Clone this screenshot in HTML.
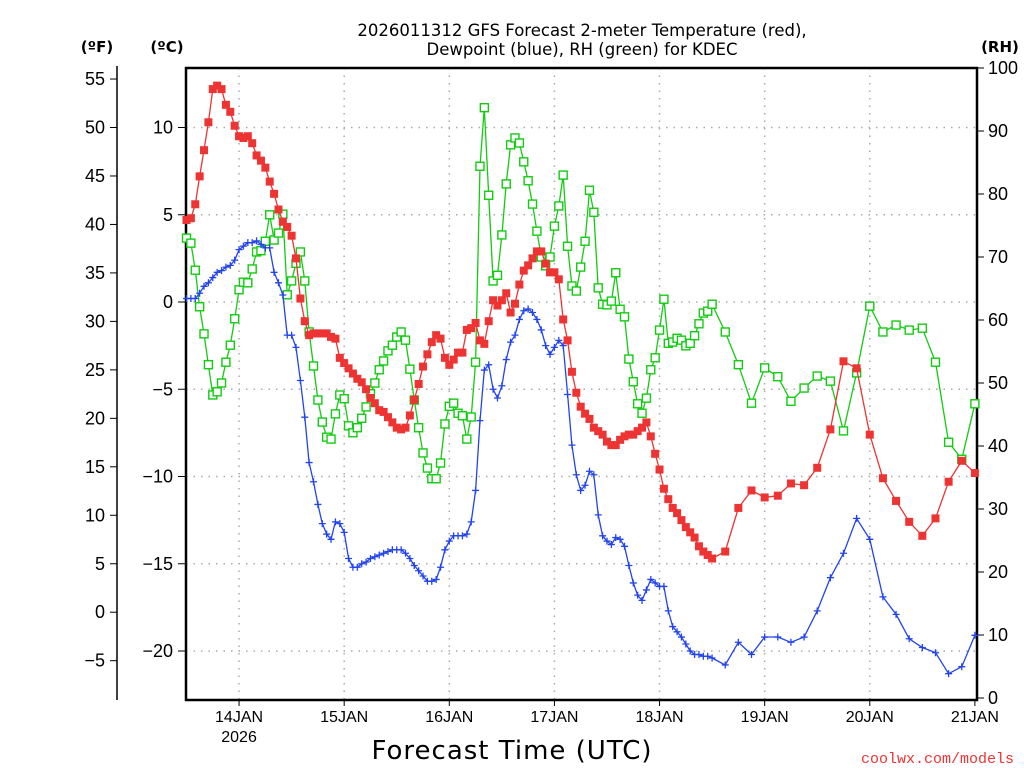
<!DOCTYPE html>
<html><head><meta charset="utf-8"><style>
html,body{margin:0;padding:0;background:#fff;}
svg{display:block;font-family:"DejaVu Sans","Liberation Sans",sans-serif;}
</style></head><body>
<svg id="chart" width="1024" height="768" viewBox="0 0 1024 768" xmlns="http://www.w3.org/2000/svg">
<text x="582" y="36" font-size="16.5" text-anchor="middle" fill="#000">2026011312 GFS Forecast 2-meter Temperature (red),</text>
<text x="582" y="55" font-size="16.5" text-anchor="middle" fill="#000">Dewpoint (blue), RH (green) for KDEC</text>
<text x="97" y="52" font-size="15" font-weight="bold" text-anchor="middle">(ºF)</text>
<text x="167" y="52" font-size="15" font-weight="bold" text-anchor="middle">(ºC)</text>
<text x="1000" y="52" font-size="15" font-weight="bold" text-anchor="middle">(RH)</text>
<text x="512" y="759" font-size="26" text-anchor="middle" fill="#000" letter-spacing="1">Forecast Time (UTC)</text>
<text x="1014" y="763" font-size="15" text-anchor="end" fill="#e33" font-family="Liberation Mono, monospace">coolwx.com/models</text>
<g id="grid"></g><g id="axes"></g><g id="series"></g>
</svg>
<script>
// hourly 0..120 then 3-hourly 123..180 (hours since 13JAN 12Z)
const hours = [];
for (let h = 0; h <= 120; h++) hours.push(h);
for (let h = 123; h <= 180; h += 3) hours.push(h);
const tempC = [4.7,4.8,5.6,7.2,8.7,10.3,12.2,12.4,12.2,11.3,10.9,10.1,9.5,9.4,9.5,9.1,8.4,8.1,7.7,6.9,6.2,5.3,4.6,4.3,3.8,2.5,0.2,-1.1,-1.9,-1.8,-1.8,-1.8,-1.8,-2.0,-2.1,-3.2,-3.5,-3.8,-4.1,-4.4,-4.6,-5.0,-5.5,-5.8,-6.2,-6.3,-6.6,-6.9,-7.2,-7.3,-7.2,-6.5,-5.6,-4.7,-3.7,-3.0,-2.3,-1.9,-2.1,-3.2,-3.6,-3.3,-2.9,-2.9,-1.6,-1.5,-1.2,-2.2,-2.4,-1.1,0.1,-0.2,0.1,0.5,-0.6,-0.1,1.0,1.8,2.1,2.5,2.9,2.9,2.2,1.7,1.7,1.3,-1.0,-2.2,-4.0,-5.2,-6.0,-6.4,-6.7,-7.2,-7.4,-7.6,-8.0,-8.2,-8.2,-7.9,-7.7,-7.6,-7.6,-7.4,-7.2,-6.9,-7.7,-8.7,-9.6,-10.7,-11.3,-11.8,-12.1,-12.5,-12.9,-13.2,-13.5,-14.0,-14.3,-14.5,-14.7,
-14.3,-11.8,-10.8,-11.2,-11.1,-10.4,-10.5,-9.5,-7.3,-3.4,-3.8,-7.6,-10.1,-11.4,-12.6,-13.4,-12.4,-10.3,-9.1,-9.8];
const dewC = [0.2,0.2,0.2,0.5,0.9,1.1,1.4,1.7,1.8,2.0,2.1,2.4,3.0,3.2,3.4,3.4,3.5,3.3,3.1,3.1,1.7,1.1,0.4,-1.9,-1.9,-2.6,-4.5,-6.6,-9.2,-10.3,-11.6,-12.7,-13.3,-13.6,-12.6,-12.7,-13.2,-14.7,-15.2,-15.2,-15.0,-14.9,-14.7,-14.6,-14.5,-14.4,-14.3,-14.2,-14.2,-14.2,-14.4,-14.7,-15.1,-15.4,-15.7,-16.0,-16.0,-15.9,-15.2,-14.2,-13.7,-13.4,-13.4,-13.4,-13.3,-12.6,-10.8,-6.8,-3.9,-3.6,-5.0,-5.5,-4.8,-3.3,-2.3,-1.9,-1.0,-0.5,-0.4,-0.6,-1.0,-1.6,-2.5,-3.0,-2.6,-2.2,-2.5,-5.3,-8.2,-9.9,-10.8,-10.5,-9.7,-9.9,-12.2,-13.4,-13.7,-13.9,-13.5,-13.6,-14.0,-15.1,-16.1,-16.8,-17.1,-16.5,-15.9,-16.1,-16.3,-16.3,-17.7,-18.6,-18.9,-19.2,-19.6,-20.0,-20.2,-20.2,-20.3,-20.3,-20.4,
-20.8,-19.5,-20.2,-19.2,-19.2,-19.5,-19.2,-17.7,-15.8,-14.4,-12.4,-13.6,-16.9,-17.9,-19.3,-19.8,-20.1,-21.3,-20.9,-19.1];
const rh = [73.0,72.2,67.9,62.1,57.8,52.9,48.1,48.6,50.0,53.3,56.0,60.2,64.8,66.0,65.9,68.1,70.8,71.0,72.5,76.7,72.7,73.8,76.8,64.0,66.2,69.0,70.8,66.2,58.1,52.7,47.3,43.8,41.4,41.1,45.1,48.1,47.5,43.2,42.1,42.9,44.4,46.2,48.3,50.0,52.1,53.5,55.1,56.0,57.3,58.1,56.8,52.2,47.3,42.9,38.9,36.5,34.8,34.8,37.3,43.5,46.3,46.8,45.2,44.8,41.1,44.6,53.3,84.4,93.7,79.8,66.2,67.1,73.5,81.6,87.8,88.9,88.1,85.1,82.1,78.4,74.1,70.0,68.6,70.0,74.9,78.1,83.0,71.7,65.4,64.6,68.4,72.5,80.6,77.1,65.1,62.5,62.4,63.0,67.5,61.7,60.5,53.8,50.2,46.7,45.2,47.6,52.1,54.0,58.4,63.3,56.3,56.5,57.1,56.8,55.9,56.3,57.5,59.4,61.1,61.4,62.5,
58.1,52.9,46.8,52.4,51.0,47.1,49.2,51.1,50.3,42.4,51.6,62.2,58.1,59.2,58.4,58.7,53.3,40.6,37.9,46.7];
const celsiusTicks = [10,5,0,-5,-10,-15,-20];
const fahrenheitTicks = [55,50,45,40,35,30,25,20,15,10,5,0,-5];
const rhTicks = [100,90,80,70,60,50,40,30,20,10,0];
const dayTicks = [12,36,60,84,108,132,156,180];
const dayLabels = ["14JAN","15JAN","16JAN","17JAN","18JAN","19JAN","20JAN","21JAN"];

const NS = "http://www.w3.org/2000/svg";
const X0 = 186, X1 = 977, Y0 = 68, Y1 = 700;
const xs = h => 186.5 + h * 4.38;
const yC = c => 302 - c * 17.45;
const yF = f => yC((f - 32) * 5 / 9);
const yRH = r => 698 - r * 6.3;
function mk(tag, attrs, parent) {
  const e = document.createElementNS(NS, tag);
  for (const k in attrs) e.setAttribute(k, attrs[k]);
  parent.appendChild(e);
  return e;
}
const grid = document.getElementById('grid');
const axes = document.getElementById('axes');
const series = document.getElementById('series');
const dash = {stroke:'#aaa','stroke-width':1.5,'stroke-dasharray':'1.5,6'};
const LF = '"Liberation Sans", sans-serif';

celsiusTicks.forEach(c => {
  const y = yC(c);
  const g = mk('line', Object.assign({x1:X0,x2:X1,y1:y,y2:y}, dash), grid);
  
  
  const t = mk('line', {x1:178,x2:X0,y1:y,y2:y,stroke:'#000','stroke-width':1}, axes);
  
  
  const l = mk('text', {x:173,y:y+6,'font-size':18,'text-anchor':'end','font-family':LF}, axes);
  l.textContent = c < 0 ? '\u2212' + (-c) : String(c);
  
  
});
fahrenheitTicks.forEach(f => {
  const y = yF(f);
  const t = mk('line', {x1:110,x2:117,y1:y,y2:y,stroke:'#000','stroke-width':1}, axes);
  
  
  const l = mk('text', {x:105,y:y+6,'font-size':18,'text-anchor':'end','font-family':LF}, axes);
  l.textContent = f < 0 ? '\u2212' + (-f) : String(f);
  
  
});
rhTicks.forEach(r => {
  const y = yRH(r);
  const t = mk('line', {x1:X1,x2:984,y1:y,y2:y,stroke:'#000','stroke-width':1}, axes);
  
  
  const l = mk('text', {x:988,y:y+6,'font-size':18,'text-anchor':'start','font-family':LF}, axes);
  l.textContent = String(r);
  
  
});
dayTicks.forEach((h, i) => {
  const x = xs(h);
  if (i < dayTicks.length - 1) {
    const g = mk('line', Object.assign({x1:x,x2:x,y1:Y0,y2:Y1}, dash), grid);
    
    
  }
  const t = mk('line', {x1:x,x2:x,y1:Y1,y2:Y1+6,stroke:'#000','stroke-width':1}, axes);
  
  
  const l = mk('text', {x:x,y:722,'font-size':16,'text-anchor':'middle','font-family':LF}, axes);
  l.textContent = dayLabels[i];
  
  
});
const yr = mk('text', {x:xs(dayTicks[0]),y:742,'font-size':16,'text-anchor':'middle','font-family':LF}, axes);
yr.textContent = '2026';



const fAxis = mk('line', {x1:117,x2:117,y1:66,y2:Y1,stroke:'#000','stroke-width':1.5}, axes);


const box = mk('rect', {x:X0,y:Y0,width:X1-X0,height:Y1-Y0,fill:'none',stroke:'#000','stroke-width':2.5}, axes);



function drawSeries(vals, yfn, color, name, marker) {
  const pts = vals.map((v, i) => [xs(hours[i]), yfn(v)]);
  const line = mk('polyline', {points: pts.map(p => p[0].toFixed(1)+','+p[1].toFixed(1)).join(' '), fill:'none', stroke:color, 'stroke-width':1.3}, series);
  
  
  pts.forEach(p => {
    let m;
    if (marker === 'fill') {
      m = mk('rect', {x:p[0]-4,y:p[1]-4,width:8,height:8,fill:color}, series);
    } else if (marker === 'open') {
      m = mk('rect', {x:p[0]-4,y:p[1]-4,width:8,height:8,fill:'#fff',stroke:color,'stroke-width':1.4}, series);
    } else {
      m = mk('path', {d:`M${p[0]-3.5},${p[1]}h7M${p[0]},${p[1]-3.5}v7`, stroke:color,'stroke-width':1.3}, series);
    }
    
    
  });
}
drawSeries(rh, yRH, '#11cc11', 'rh', 'open');
drawSeries(dewC, yC, '#2244ee', 'dewpoint', 'plus');
drawSeries(tempC, yC, '#ee3333', 'temperature', 'fill');
</script>
</body></html>
